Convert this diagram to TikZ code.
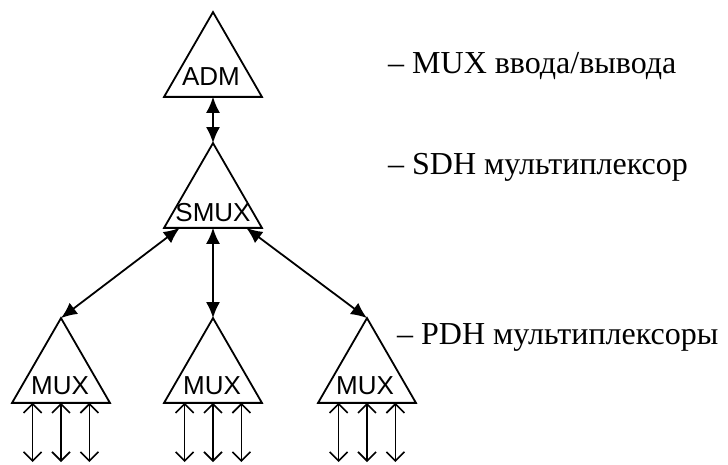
\documentclass[tikz,border=0pt]{standalone}
\usepackage{fontspec}
\setmainfont{Liberation Serif}
\newfontfamily\boxfont{Liberation Sans}
\usetikzlibrary{shapes.geometric,arrows.meta,calc}
\tikzset{
  tri/.style={regular polygon, regular polygon sides=3, draw, line width=1.8pt,
    minimum size=113pt, inner sep=0pt, outer sep=0pt},
  trilabel/.style={font=\boxfont\fontsize{26}{30}\selectfont, anchor=base, inner sep=0pt},
  desc/.style={font=\fontsize{32}{38}\selectfont, anchor=base west, inner sep=0pt},
  link/.style={line width=1.8pt, {Latex[length=16pt,width=14pt]}-{Latex[length=16pt,width=14pt]}},
  chan/.style={line width=1.6pt, {Straight Barb[length=9pt,width=18pt]}-{Straight Barb[length=9pt,width=18pt]}}
}
\begin{document}
\begin{tikzpicture}[x=1pt,y=-1pt]
\useasboundingbox (0,0) rectangle (728,464);
% triangles
\node[tri] (adm) at (213,68.6) {};
\node[tri] (smux) at (213,199.6) {};
\node[tri] (mux1) at (61,374.6) {};
\node[tri] (mux2) at (213,374.6) {};
\node[tri] (mux3) at (367,374.6) {};
% triangle texts
\node[trilabel] (tadm) at (211,85) {ADM};
\node[trilabel] (tsmux) at (213,221) {SMUX};
\node[trilabel] (tmux1) at (60,394) {MUX};
\node[trilabel] (tmux2) at (212,394) {MUX};
\node[trilabel] (tmux3) at (365,394) {MUX};
% links
\draw[link] (adm.side 2) -- (smux.corner 1);
\coordinate (s1) at ($(smux.corner 2)!0.16!(smux.corner 3)$);
\coordinate (s3) at ($(smux.corner 2)!0.84!(smux.corner 3)$);
\draw[link] (s1) -- (mux1.corner 1);
\draw[link] (smux.side 2) -- (mux2.corner 1);
\draw[link] (s3) -- (mux3.corner 1);
% channels
\coordinate (bottom) at (0,462);
\foreach \m in {mux1,mux2,mux3}{
  \foreach \p [count=\i] in {0.21,0.5,0.79}{
    \coordinate (\m-c\i) at ($(\m.corner 2)!\p!(\m.corner 3)$);
    \coordinate (\m-e\i) at (\m-c\i |- bottom);
    \draw[chan] (\m-c\i) -- (\m-e\i);
  }
}
% descriptions
\node[desc] (dadm) at (388,73) {– MUX ввода/вывода};
\node[desc] (dsmux) at (388,174) {– SDH мультиплексор};
\node[desc] (dmux) at (397,344) {– PDH мультиплексоры};
\end{tikzpicture}
\end{document}
